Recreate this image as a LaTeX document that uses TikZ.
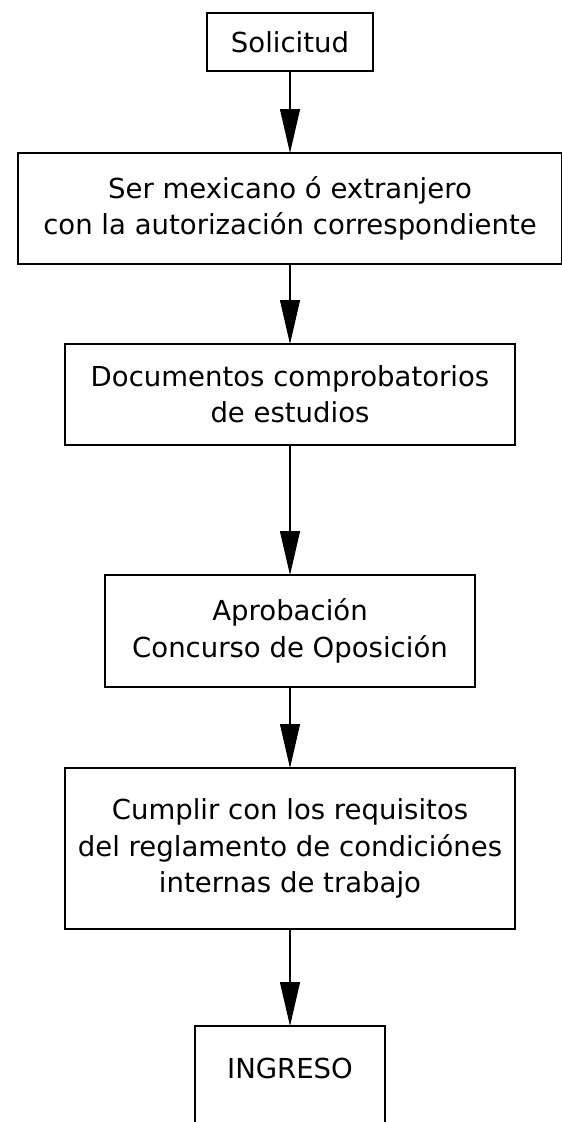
\documentclass[tikz,border=0pt]{standalone}
\usepackage{fontspec}
\setmainfont{DejaVu Sans}
\usetikzlibrary{positioning, arrows.meta}
\tikzset{
	>={Triangle[length=1.32cm, width=0.6cm]}, % big filled arrow heads
	every node/.style={font=\fontsize{23.5pt}{31pt}\selectfont},
	caja/.style={draw, line width=1.8pt, align=center, inner sep=0pt, outer sep=0pt}, % one step of the process
	flecha/.style={->, line width=1pt},
}
\begin{document}
\begin{tikzpicture}
	\useasboundingbox (0,0) rectangle (16.86,-33.66);
	\node[caja, minimum width=4.98cm, minimum height=1.74cm] (sol) at (8.7,-1.26) {Solicitud};
	\node[caja, minimum width=16.32cm, minimum height=3.33cm, below=2.46cm of sol] (nac) {Ser mexicano ó extranjero\\con la autorización correspondiente};
	\node[caja, minimum width=13.5cm, minimum height=3.03cm, below=2.4cm of nac] (doc) {Documentos comprobatorios\\de estudios};
	\node[caja, minimum width=11.1cm, minimum height=3.36cm, below=3.9cm of doc] (apr) {Aprobación\\Concurso de Oposición};
	\node[caja, minimum width=13.5cm, minimum height=4.83cm, below=2.43cm of apr] (cum) {Cumplir con los requisitos\\del reglamento de condiciónes\\internas de trabajo};
	\node[caja, minimum width=5.7cm, text height=1.56cm, text depth=2.5cm, below=2.91cm of cum] (ing) {INGRESO};
	% arrows
	\draw[flecha] (sol) -- (nac);
	\draw[flecha] (nac) -- (doc);
	\draw[flecha] (doc) -- (apr);
	\draw[flecha] (apr) -- (cum);
	\draw[flecha] (cum) -- (ing);
\end{tikzpicture}
\end{document}
